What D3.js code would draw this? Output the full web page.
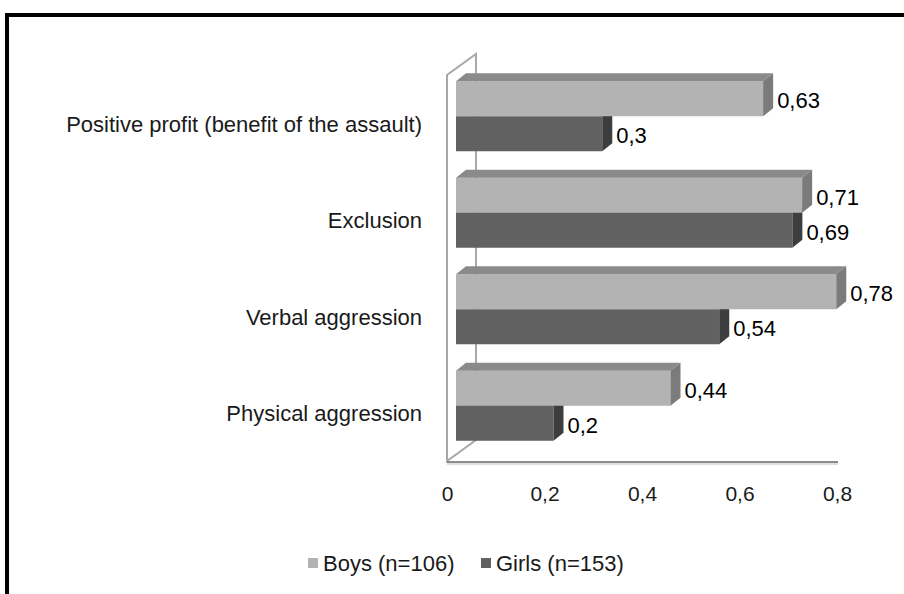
<!DOCTYPE html>
<html>
<head>
<meta charset="utf-8">
<script src="https://cdn.jsdelivr.net/npm/d3@7"></script>
<style>
  body { margin: 0; background: #fff; }
  svg { display: block; font-family: "Liberation Sans", Arial, sans-serif; }
  .cat { font-size: 22px; fill: #1a1a1a; }
  .val { font-size: 22px; fill: #000; }
  .tick text { font-size: 21px; fill: #1a1a1a; }
  .legend text { font-size: 22px; fill: #1a1a1a; }
</style>
</head>
<body>
<svg width="904" height="594"></svg>
<script>
// chart values
var categories = ["Positive profit (benefit of the assault)", "Exclusion", "Verbal aggression", "Physical aggression"];
var boys = [0.63, 0.71, 0.78, 0.44];
var girls = [0.3, 0.69, 0.54, 0.2];
var seriesNames = ["Boys (n=106)", "Girls (n=153)"];
var xTicks = [0, 0.2, 0.4, 0.6, 0.8];

var svg = d3.select("svg"),
    plot = {left: 447, right: 837, top: 75, bottom: 461},
    barDepth = {dx: 10, dy: 8},     // depth of each bar
    wallDepth = {dx: 29, dy: 21},   // depth of the side wall
    barShift = {dx: 9, dy: 7},      // where the bars sit inside the box
    barH = 35;

var fmt = function(d) { return String(d).replace(".", ","); };

var x = d3.scaleLinear().domain([0, 0.8]).range([plot.left, plot.right]);
var y = d3.scaleBand().domain(categories).range([plot.top, plot.bottom]);

// outer frame
svg.append("rect")
    .attr("x", 7).attr("y", 15)
    .attr("width", 1000).attr("height", 700)
    .attr("fill", "none")
    .attr("stroke", "#000")
    .attr("stroke-width", 4);

// side wall
svg.append("path")
    .attr("d", "M" + plot.left + "," + plot.bottom +
        "L" + plot.left + "," + plot.top +
        "L" + (plot.left + wallDepth.dx) + "," + (plot.top - wallDepth.dy) +
        "L" + (plot.left + wallDepth.dx) + "," + (plot.bottom - wallDepth.dy) + "Z")
    .attr("fill", "#fff")
    .attr("stroke", "#a8a8a8")
    .attr("stroke-width", 2);

// floor line
svg.append("line")
    .attr("x1", plot.left).attr("x2", x(0.8) + 1)
    .attr("y1", plot.bottom + 1).attr("y2", plot.bottom + 1)
    .attr("stroke", "#8c8c8c")
    .attr("stroke-width", 2);
svg.append("line")
    .attr("x1", plot.left).attr("x2", x(0.8) + 1)
    .attr("y1", plot.bottom + 3).attr("y2", plot.bottom + 3)
    .attr("stroke", "#d4d4d4")
    .attr("stroke-width", 1.5);

// x axis labels only
var xAxis = d3.axisBottom(x).tickValues(xTicks).tickFormat(fmt).tickSize(0).tickPadding(0);
svg.append("g")
    .attr("class", "axis axis--x")
    .attr("transform", "translate(0," + 486 + ")")
    .call(xAxis)
    .call(function(g) { g.select(".domain").remove(); })
    .selectAll("text").attr("dy", "0.71em");

// category labels
svg.selectAll(".cat")
    .data(categories)
    .enter().append("text")
    .attr("class", "cat")
    .attr("x", 422)
    .attr("y", function(d) { return y(d) + y.bandwidth() / 2 + 1; })
    .attr("dy", "0.35em")
    .attr("text-anchor", "end")
    .text(function(d) { return d; });

var series = [
    {name: seriesNames[1], values: girls, offset: barH, front: "#616161", top: "#4d4d4d", side: "#3d3d3d"},
    {name: seriesNames[0], values: boys, offset: 0, front: "#b3b3b3", top: "#8a8a8a", side: "#7b7b7b"}
];

function barTop(i) {
    var c = categories[i];
    return y(c) + y.bandwidth() / 2 - barShift.dy - barH;
}

series.forEach(function(s) {
    var g = svg.append("g").attr("class", "bars");
    s.values.forEach(function(v, i) {
        var x0 = x(0) + barShift.dx,
            x1 = x(v) + barShift.dx,
            y0 = barTop(i) + s.offset,
            y1 = y0 + barH;
        g.append("rect")
            .attr("x", x0).attr("y", y0)
            .attr("width", x1 - x0).attr("height", barH)
            .attr("fill", s.front);
        g.append("path")
            .attr("d", "M" + x0 + "," + y0 + "L" + (x0 + barDepth.dx) + "," + (y0 - barDepth.dy) +
                "L" + (x1 + barDepth.dx) + "," + (y0 - barDepth.dy) + "L" + x1 + "," + y0 + "Z")
            .attr("fill", s.top);
        g.append("path")
            .attr("d", "M" + x1 + "," + y0 + "L" + (x1 + barDepth.dx) + "," + (y0 - barDepth.dy) +
                "L" + (x1 + barDepth.dx) + "," + (y1 - barDepth.dy) + "L" + x1 + "," + y1 + "Z")
            .attr("fill", s.side);
        g.append("text")
            .attr("class", "val")
            .attr("x", x1 + barDepth.dx + 4)
            .attr("y", y0 + barH / 2 + 2)
            .attr("dy", "0.35em")
            .text(fmt(v));
    });
});

// legend
var legend = svg.append("g").attr("class", "legend").attr("transform", "translate(308,563)");
var legendX = [0, 173];
[boys, girls].forEach(function(d, i) {
    var item = legend.append("g").attr("transform", "translate(" + legendX[i] + ",0)");
    item.append("rect")
        .attr("x", 0).attr("y", -5)
        .attr("width", 10).attr("height", 10)
        .attr("fill", i === 0 ? "#b3b3b3" : "#616161");
    item.append("text")
        .attr("x", 15).attr("dy", "0.35em")
        .text(seriesNames[i]);
});
</script>
</body>
</html>
